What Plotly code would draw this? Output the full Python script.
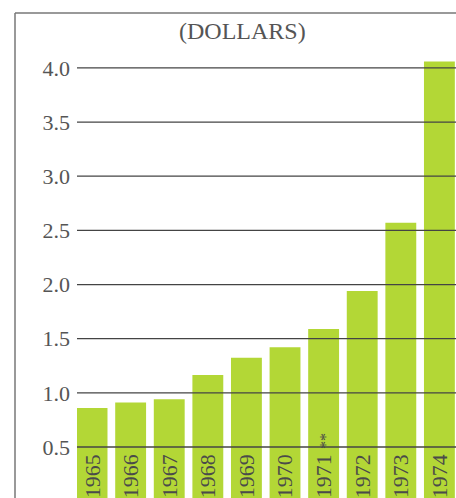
import plotly.graph_objects as go

# Data
years = ["1965", "1966", "1967", "1968", "1969", "1970", "1971", "1972", "1973", "1974"]
values = [0.86, 0.91, 0.94, 1.165, 1.325, 1.42, 1.59, 1.94, 2.57, 4.06]
bar_labels = ["1965", "1966", "1967", "1968", "1969", "1970",
              "1971 <span style='font-size:16px'>**</span>",
              "1972", "1973", "1974"]
tick_values = [0.5, 1.0, 1.5, 2.0, 2.5, 3.0, 3.5, 4.0]
tick_labels = ["0.5", "1.0", "1.5", "2.0", "2.5", "3.0", "3.5", "4.0"]
unit_title = "(DOLLARS)"

W, H = 456, 498
LEFT = 77
SERIF = "Liberation Serif"
TEXT_GREY = "#555555"

fig = go.Figure(
    go.Bar(
        x=years,
        y=values,
        width=0.8,
        marker=dict(color="#b3d736", line=dict(width=0)),
        text=bar_labels,
        textposition="inside",
        insidetextanchor="start",
        textangle=-90,
        insidetextfont=dict(family=SERIF, size=22, color="#4a4a4a"),
        hoverinfo="skip",
    )
)

# horizontal rules drawn above the bars
for v in tick_values:
    fig.add_shape(type="line", xref="paper", yref="y", x0=0, x1=1, y0=v, y1=v,
                  line=dict(color="#444444", width=1.3), layer="above")

# frame: top and left border
px_x = lambda p: (p - LEFT) / (W - LEFT)
px_y = lambda p: 1 - p / H
fig.add_shape(type="line", xref="paper", yref="paper",
              x0=px_x(15), x1=1.02, y0=px_y(13), y1=px_y(13),
              line=dict(color="#777777", width=1.5))
fig.add_shape(type="line", xref="paper", yref="paper",
              x0=px_x(15), x1=px_x(15), y0=px_y(13), y1=-0.02,
              line=dict(color="#777777", width=1.5))

fig.add_annotation(text=unit_title, xref="paper", yref="paper",
                   x=px_x(242), y=px_y(31), xanchor="center", yanchor="middle",
                   showarrow=False, font=dict(family=SERIF, size=24, color=TEXT_GREY))

fig.update_layout(
    width=W, height=H,
    margin=dict(l=LEFT, r=0, t=0, b=0),
    paper_bgcolor="white", plot_bgcolor="white",
    font=dict(family=SERIF, color=TEXT_GREY),
    showlegend=False,
    bargap=0.2,
    xaxis=dict(type="category", range=[-0.39, 9.43], showticklabels=False,
               showgrid=False, zeroline=False, showline=False, ticks=""),
    yaxis=dict(range=[0.029, 4.627], tickvals=tick_values, ticktext=tick_labels,
               showgrid=False, zeroline=False, showline=False, ticks="",
               ticklabelstandoff=6,
               tickfont=dict(family=SERIF, size=22, color=TEXT_GREY)),
    uniformtext=dict(mode=False),
)

fig.write_html("out.html")
